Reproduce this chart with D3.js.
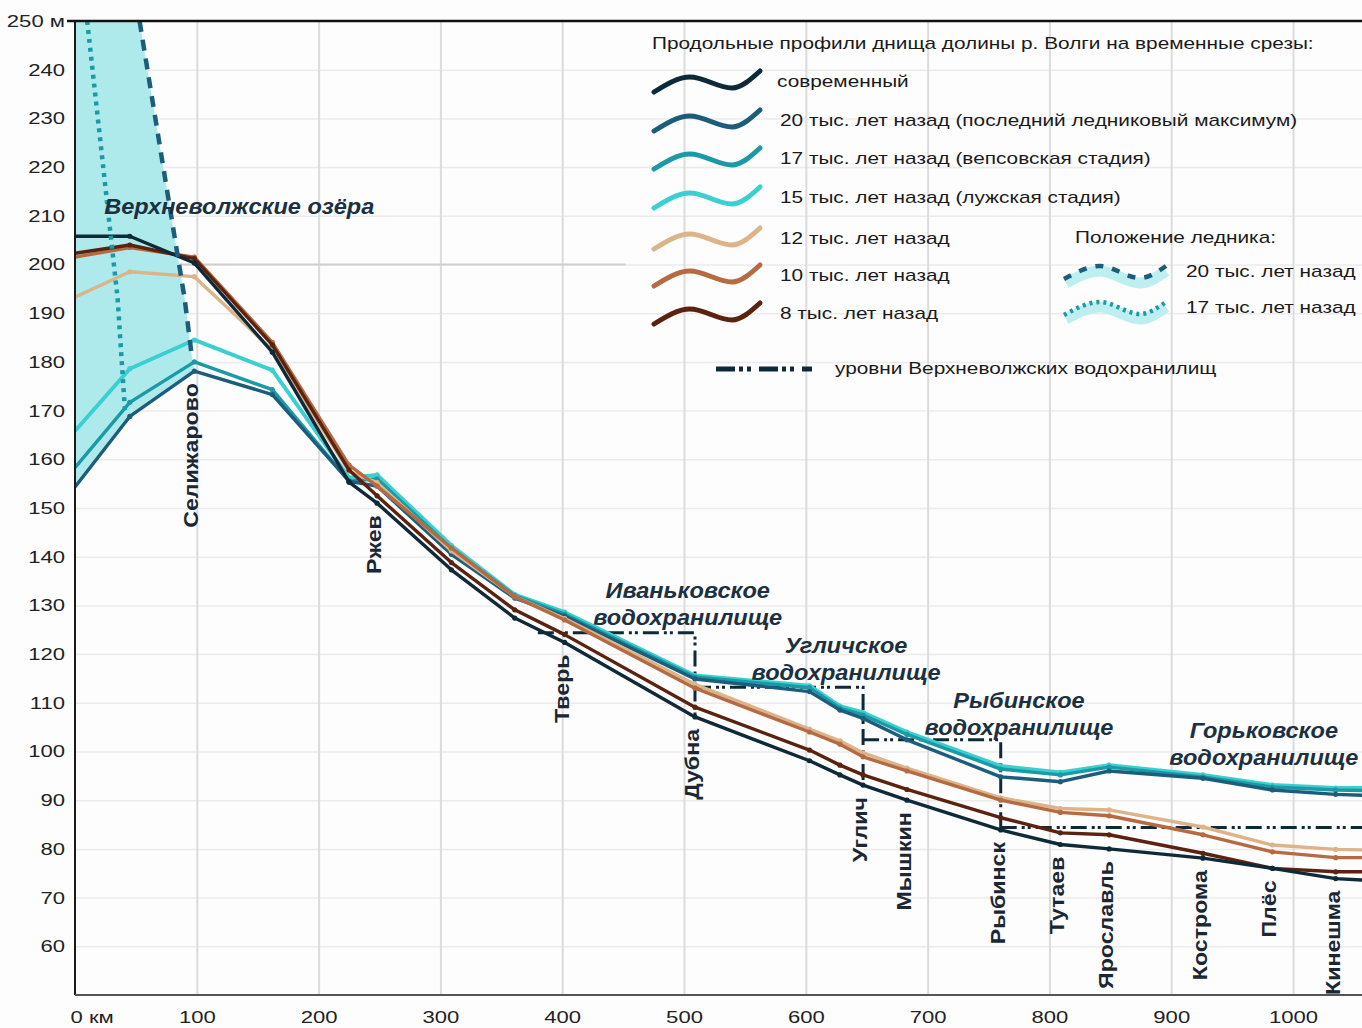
<!DOCTYPE html>
<html>
<head>
<meta charset="utf-8">
<script src="https://cdn.jsdelivr.net/npm/d3@7"></script>
<style>
    body { margin: 0; background: #fff; }
    svg text { font-family: "Liberation Sans", Arial, sans-serif; }
</style>
</head>
<body>
<div id="chart"></div>
<script>
// ---------------------------//
//       DATA                 //
// ---------------------------//

// distance along the valley, km (vertices of the profiles)
const km = [0, 45, 98, 162, 225, 248, 309, 361, 402, 509, 603, 628, 647, 683, 760, 809, 849, 926, 983, 1035, 1057];

// valley floor elevation, m
const prof0ka  = [205.8, 205.8, 200.3, 182.0, 155.3, 151.0, 137.3, 127.4, 122.4, 107.1, 98.1, 95.2, 93.1, 90.0, 83.9, 80.9, 80.0, 78.1, 76.0, 73.9, 73.6];
const prof20ka = [154.3, 168.8, 178.1, 173.3, 155.5, 154.5, 140.5, 131.5, 127.8, 114.9, 112.3, 108.5, 106.8, 102.4, 94.8, 93.8, 96.0, 94.5, 92.1, 91.2, 91.0];
const prof17ka = [158.3, 171.7, 180.0, 174.3, 155.5, 156.0, 141.7, 132.0, 128.2, 115.3, 113.1, 108.9, 107.5, 103.5, 96.4, 95.2, 96.8, 94.8, 92.7, 92.1, 92.0];
const prof15ka = [165.8, 178.6, 184.5, 178.3, 156.2, 156.8, 142.3, 132.2, 128.6, 115.6, 113.5, 109.3, 108.0, 104.0, 97.0, 95.7, 97.2, 95.2, 93.1, 92.5, 92.5];
const prof12ka = [193.3, 198.5, 197.5, 182.5, 157.5, 155.2, 141.2, 131.8, 127.3, 113.8, 104.6, 102.2, 99.7, 96.6, 90.5, 88.3, 88.0, 84.5, 80.8, 79.9, 79.8];
const prof10ka = [201.5, 203.5, 201.5, 184.0, 158.8, 154.5, 141.8, 131.8, 127.0, 113.0, 104.0, 101.5, 98.9, 96.0, 90.0, 87.5, 86.8, 82.9, 79.4, 78.2, 78.2];
const prof8ka  = [202.3, 204.0, 201.2, 183.5, 157.8, 152.5, 138.8, 129.1, 124.0, 109.1, 100.3, 97.2, 95.2, 92.2, 86.4, 83.3, 82.9, 79.1, 76.0, 75.3, 75.3];

const seriesLabels = [
    "современный",
    "20 тыс. лет назад (последний ледниковый максимум)",
    "17 тыс. лет назад (вепсовская стадия)",
    "15 тыс. лет назад (лужская стадия)",
    "12 тыс. лет назад",
    "10 тыс. лет назад",
    "8 тыс. лет назад"
];

// glacier margin [km, m]
const glacier20 = [[53, 250], [90, 193], [96, 181]];
const glacier17 = [[10, 250], [35, 193], [41, 170]];

// reservoir levels [km, m]
const resIvankovo = [[380, 124.4], [509, 124.4], [509, 107.1]];
const resUglich   = [[509, 113.2], [647, 113.2], [647, 93.1]];
const resRybinsk  = [[647, 102.4], [760, 102.4], [760, 83.9]];
const resGorky    = [[760, 84.4], [1057, 84.4]];

// towns along the river
const towns = ["Селижарово", "Ржев", "Тверь", "Дубна", "Углич", "Мышкин", "Рыбинск", "Тутаев", "Ярославль", "Кострома", "Плёс", "Кинешма"];
const townKm = [98, 248, 402, 509, 647, 683, 760, 809, 849, 926, 983, 1035];

// lake / reservoir names: lines, km, m of first baseline
const waterNames = [
    [["Верхневолжские озёра"], 24, 210.4],
    [["Иваньковское", "водохранилище"], 503, 131.6],
    [["Угличское", "водохранилище"], 633, 120.3],
    [["Рыбинское", "водохранилище"], 775, 109.0],
    [["Горьковское", "водохранилище"], 976, 102.7]
];

const yTicks = d3.range(60, 251, 10);
const xTicks = d3.range(0, 1001, 100);

// ---------------------------//
//       SETUP                //
// ---------------------------//
let margin = { top: 21, right: 0, bottom: 33, left: 75 },
    width = 1362 - margin.left - margin.right,
    height = 1028 - margin.top - margin.bottom;

const colors = ["#0e2a38", "#1d5d7c", "#1b9aa6", "#3ccfd2", "#dcb48a", "#b56a42", "#5b2210"];
const profiles = [prof0ka, prof20ka, prof17ka, prof15ka, prof12ka, prof10ka, prof8ka];
const SX = 1.3; // horizontal stretch of the plain text

let svg0 = d3.select("#chart")
    .append("svg")
    .attr("width", 1362)
    .attr("height", 1028);

svg0.append("rect").attr("width", 1362).attr("height", 1028).attr("fill", "#fdfdfd");

let svg = svg0.append("g")
    .attr("transform", "translate(" + margin.left + "," + margin.top + ")");

svg.append("clipPath").attr("id", "clip")
    .append("rect").attr("width", width).attr("height", height);

let x = d3.scaleLinear().domain([0, 1056.6]).range([0, width]);
let y = d3.scaleLinear().domain([50, 250]).range([height, 0]);

// grid
svg.append("g")
    .attr("class", "grid")
    .call(d3.axisLeft(y).tickValues(yTicks.slice(0, -1)).tickSize(-width).tickFormat(""))
    .call(g => g.select(".domain").remove())
    .selectAll("line").attr("stroke", "#ebebeb").attr("stroke-width", 1.5);

svg.append("g")
    .attr("class", "grid")
    .attr("transform", "translate(0," + height + ")")
    .call(d3.axisBottom(x).tickValues(xTicks.slice(1)).tickSize(-height).tickFormat(""))
    .call(g => g.select(".domain").remove())
    .selectAll("line").attr("stroke", "#dcdcdc").attr("stroke-width", 2);

svg.append("line")
    .attr("x1", x(0)).attr("x2", x(452))
    .attr("y1", y(200)).attr("y2", y(200))
    .attr("stroke", "#cfcfcf").attr("stroke-width", 2);

let plot = svg.append("g").attr("clip-path", "url(#clip)");

let line = d3.line().x(d => x(d[0])).y(d => y(d[1]));

// ice area (between the 20 ka margin and the 20 ka profile)
let icePoly = glacier20
    .concat(km.map((k, i) => [k, prof20ka[i]]).filter(p => p[0] <= 98).reverse())
    .concat([[0, 250]]);
plot.append("path")
    .attr("d", line(icePoly) + "Z")
    .attr("fill", "#aeeaec");

// reservoir levels
[resIvankovo, resUglich, resRybinsk, resGorky].forEach(r => {
    plot.append("path")
        .attr("d", line(r))
        .attr("fill", "none")
        .attr("stroke", "#0e2a38")
        .attr("stroke-width", 3)
        .attr("stroke-dasharray", "16,5,3,3,3,5");
});

// profiles
let drawOrder = [3, 2, 1, 4, 5, 6, 0];
drawOrder.forEach(si => {
    let pts = km.map((k, i) => [k, profiles[si][i]]);
    plot.append("path")
        .attr("d", line(pts))
        .attr("fill", "none")
        .attr("stroke", colors[si])
        .attr("stroke-width", si === 3 ? 4 : 3.4)
        .attr("stroke-linejoin", "round");
    plot.append("g").selectAll("circle")
        .data(pts.slice(1, -1))
        .enter()
        .append("circle")
        .attr("cx", d => x(d[0]))
        .attr("cy", d => y(d[1]))
        .attr("r", 2.6)
        .attr("fill", colors[si]);
});

// glacier margins
plot.append("path")
    .attr("d", line(glacier20))
    .attr("fill", "none")
    .attr("stroke", "#1d5d7c")
    .attr("stroke-width", 4.5)
    .attr("stroke-dasharray", "11,8");
plot.append("path")
    .attr("d", line(glacier17))
    .attr("fill", "none")
    .attr("stroke", "#1b9aa6")
    .attr("stroke-width", 4.5)
    .attr("stroke-dasharray", "4,5");

// ---------------------------//
//       AXES                 //
// ---------------------------//
let yAxis = svg.append("g")
    .call(d3.axisLeft(y).tickValues(yTicks).tickSize(0).tickPadding(10)
        .tickFormat(d => d === 250 ? "250 м" : d));
yAxis.select(".domain").remove();
yAxis.selectAll("text")
    .attr("x", 0)
    .attr("transform", "translate(-10,0) scale(" + SX + ",1)")
    .style("font-size", "17px")
    .attr("fill", "#222");

let xAxis = svg.append("g")
    .attr("transform", "translate(0," + height + ")")
    .call(d3.axisBottom(x).tickValues(xTicks).tickSize(0)
        .tickFormat(d => d === 0 ? "0 км" : d));
xAxis.select(".domain").remove();
xAxis.selectAll("text")
    .attr("transform", d => d === 0 ? "translate(-5,0) scale(" + SX + ",1)" : "scale(" + SX + ",1)")
    .attr("text-anchor", d => d === 0 ? "start" : "middle")
    .attr("x", 0)
    .attr("dy", 0)
    .attr("y", 28)
    .style("font-size", "17px")
    .attr("fill", "#222");

svg.append("line").attr("x1", 0).attr("x2", 0).attr("y1", 0).attr("y2", height)
    .attr("stroke", "#1a1a1a").attr("stroke-width", 2);
svg.append("line").attr("x1", 0).attr("x2", width).attr("y1", height).attr("y2", height)
    .attr("stroke", "#555").attr("stroke-width", 2);
svg.append("line").attr("x1", -8).attr("x2", width).attr("y1", 0).attr("y2", 0)
    .attr("stroke", "#111").attr("stroke-width", 2.5);

// ---------------------------//
//       LABELS               //
// ---------------------------//
towns.forEach((t, i) => {
    let idx = km.indexOf(townKm[i]);
    let low = d3.min(profiles, p => p[idx]);
    svg.append("text")
        .attr("transform", "translate(" + (x(townKm[i]) + 4) + "," + (y(low) + 12) + ") rotate(-90) scale(1.16,1)")
        .attr("text-anchor", "end")
        .style("font-size", "20px")
        .style("font-weight", "bold")
        .attr("fill", "#1b2733")
        .text(t);
});

waterNames.forEach(w => {
    w[0].forEach((s, j) => {
        svg.append("text")
            .attr("transform", "translate(" + x(w[1]) + "," + (y(w[2]) + j * 27) + ") scale(1.07,1)")
            .attr("text-anchor", w[0].length > 1 ? "middle" : "start")
            .style("font-size", "22px")
            .style("font-weight", "bold")
            .style("font-style", "italic")
            .attr("fill", "#1b3040")
            .text(s);
    });
});

// ---------------------------//
//       LEGEND               //
// ---------------------------//
let legend = svg0.append("g");
let ltext = function (px, py, s) {
    return legend.append("text")
        .attr("transform", "translate(" + px + "," + py + ") scale(" + SX + ",1)")
        .style("font-size", "16px")
        .attr("fill", "#1a1a1a")
        .text(s);
};
let wave = d3.line().curve(d3.curveMonotoneX);

ltext(652, 49, "Продольные профили днища долины р. Волги на временные срезы:");

let rowY = [81, 120, 158, 197, 238, 275, 313];
rowY.forEach((ry, i) => {
    legend.append("path")
        .attr("d", wave([[654, ry + 11], [690, ry - 4], [732, ry + 7], [760, ry - 10]]))
        .attr("fill", "none")
        .attr("stroke", colors[i])
        .attr("stroke-width", 5)
        .attr("stroke-linecap", "round");
    ltext(i === 0 ? 777 : 780, ry + 6, seriesLabels[i]);
});

ltext(1075, 243, "Положение ледника:");
[[270, "#1d5d7c", "8,9", "20 тыс. лет назад"], [306, "#1b9aa6", "3,4", "17 тыс. лет назад"]].forEach(g => {
    let gy = g[0];
    legend.append("path")
        .attr("d", wave([[1066, gy + 13], [1100, gy + 1], [1140, gy + 13], [1166, gy + 1]]))
        .attr("fill", "none")
        .attr("stroke", "#bdeff1")
        .attr("stroke-width", 11);
    legend.append("path")
        .attr("d", wave([[1064, gy + 9], [1100, gy - 4], [1140, gy + 8], [1166, gy - 4]]))
        .attr("fill", "none")
        .attr("stroke", g[1])
        .attr("stroke-width", 4.5)
        .attr("stroke-dasharray", g[2]);
    ltext(1186, gy + 7, g[3]);
});

legend.append("line")
    .attr("x1", 716).attr("x2", 812).attr("y1", 369).attr("y2", 369)
    .attr("stroke", "#0e2a38")
    .attr("stroke-width", 5)
    .attr("stroke-dasharray", "19,4,4,4,4,8");
ltext(835, 374, "уровни Верхневолжских водохранилищ");
</script>
</body>
</html>
